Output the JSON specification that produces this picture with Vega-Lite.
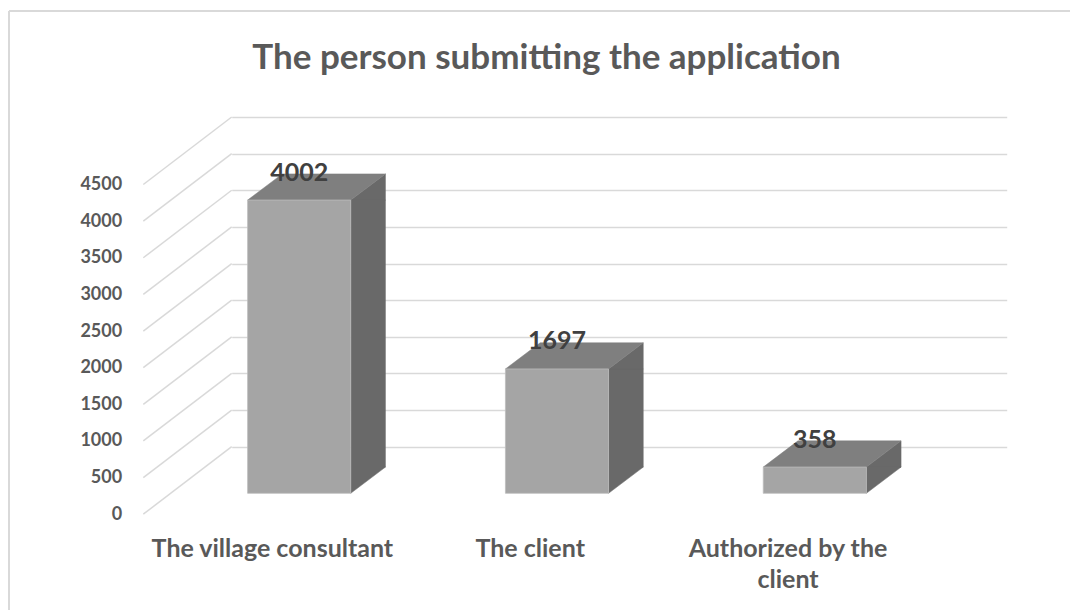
{
  "$schema": "https://vega.github.io/schema/vega-lite/v6.json",
  "autosize": {"type": "none"},
  "padding": {"left": 231.7, "top": 117, "right": 63.3, "bottom": 163.3},
  "width": 775,
  "height": 329.7,
  "background": "white",
  "config": {
    "view": {"stroke": null},
    "font": "Lato",
    "axisY": {
      "grid": true,
      "gridColor": "#d9d9d9",
      "gridWidth": 1.5,
      "domain": false,
      "ticks": false,
      "tickSize": 0,
      "labelPadding": 110,
      "labelOffset": 67.5,
      "labelFont": "Lato",
      "labelFontSize": 18,
      "labelFontWeight": "bold",
      "labelColor": "#595959",
      "labelBaseline": "middle",
      "format": "d"
    }
  },
  "title": {
    "text": "The person submitting the application",
    "font": "Lato",
    "fontSize": 35,
    "fontWeight": "bold",
    "color": "#595959",
    "anchor": "middle",
    "frame": "group",
    "dx": -72.7,
    "offset": -94,
    "baseline": "alphabetic"
  },
  "resolve": {"scale": {"x": "independent"}},
  "layer": [
    {
      "data": {"values": [{"edge": "top"}]},
      "mark": {"type": "rule", "stroke": "#d9d9d9", "strokeWidth": 2, "xOffset": -222.7, "x2Offset": 63.3, "yOffset": -106, "y2Offset": -106},
      "encoding": {
        "x": {"datum": 0, "type": "quantitative", "scale": {"domain": [0, 1]}, "axis": null},
        "x2": {"datum": 1},
        "y": {"datum": 4500, "type": "quantitative", "title": null, "axis": {"values": [0, 500, 1000, 1500, 2000, 2500, 3000, 3500, 4000, 4500], "format": "d"}},
        "y2": {"datum": 4500}
      }
    },
    {
      "data": {"values": [{"edge": "left"}]},
      "mark": {"type": "rule", "stroke": "#d9d9d9", "strokeWidth": 2, "xOffset": -222.7, "x2Offset": -222.7, "yOffset": -106, "y2Offset": 163.3},
      "encoding": {
        "x": {"datum": 0, "type": "quantitative", "scale": {"domain": [0, 1]}, "axis": null},
        "x2": {"datum": 0},
        "y": {"datum": 4500, "type": "quantitative", "title": null, "axis": {"values": [0, 500, 1000, 1500, 2000, 2500, 3000, 3500, 4000, 4500], "format": "d"}},
        "y2": {"datum": 0}
      }
    },
    {
      "data": {"values": [{"v": 0}, {"v": 500}, {"v": 1000}, {"v": 1500}, {"v": 2000}, {"v": 2500}, {"v": 3000}, {"v": 3500}, {"v": 4000}, {"v": 4500}]},
      "mark": {"type": "rule", "stroke": "#d9d9d9", "strokeWidth": 1.5, "xOffset": -88.4, "yOffset": 67.5, "x2Offset": 0, "y2Offset": 0},
      "encoding": {
        "x": {"datum": 0, "type": "quantitative", "scale": {"domain": [0, 1]}, "axis": null},
        "x2": {"datum": 0},
        "y": {
          "field": "v",
          "type": "quantitative",
          "title": null,
          "scale": {"domain": [0, 4500], "nice": false},
          "axis": {"values": [0, 500, 1000, 1500, 2000, 2500, 3000, 3500, 4000, 4500], "format": "d"}
        },
        "y2": {"field": "v"}
      }
    },
    {
      "data": {"values": [
        {"cat": "The village consultant", "value": 4002},
        {"cat": "The client", "value": 1697},
        {"cat": "Authorized by the client", "value": 358}
      ]},
      "layer": [
        {
          "mark": {"type": "bar", "width": 34.7, "xOffset": 6.7, "yOffset": 46.6, "y2Offset": 20.4, "fill": "#696969", "stroke": "#696969", "strokeWidth": 0.5},
          "encoding": {
            "x": {"field": "cat", "type": "nominal", "sort": null, "title": null},
            "y": {"field": "value", "type": "quantitative", "title": null, "axis": {"values": [0, 500, 1000, 1500, 2000, 2500, 3000, 3500, 4000, 4500], "format": "d"}},
            "y2": {"datum": 0}
          }
        },
        {
          "mark": {"type": "point", "shape": "M 51.55 0 L 86.25 -26.2 L 86.25 0 Z", "size": 4, "filled": true, "opacity": 1, "fill": "#696969", "stroke": "#696969", "strokeWidth": 0.5, "xOffset": -62.2, "yOffset": 46.6},
          "encoding": {
            "x": {"field": "cat", "type": "nominal", "sort": null, "title": null},
            "y": {"field": "value", "type": "quantitative", "title": null, "axis": {"values": [0, 500, 1000, 1500, 2000, 2500, 3000, 3500, 4000, 4500], "format": "d"}}
          }
        },
        {
          "mark": {"type": "point", "shape": "M 51.55 -26.2 L 51.55 0 L 86.25 -26.2 Z", "size": 4, "filled": true, "opacity": 1, "fill": "#696969", "stroke": "#696969", "strokeWidth": 0.5, "xOffset": -62.2, "yOffset": 46.6},
          "encoding": {
            "x": {"field": "cat", "type": "nominal", "sort": null, "title": null},
            "y": {"datum": 0, "type": "quantitative", "title": null, "axis": {"values": [0, 500, 1000, 1500, 2000, 2500, 3000, 3500, 4000, 4500], "format": "d"}}
          }
        },
        {
          "mark": {"type": "point", "shape": "M -51.55 0 L 51.55 0 L 86.25 -26.2 L -16.85 -26.2 Z", "size": 4, "filled": true, "opacity": 1, "fill": "#7f7f7f", "stroke": "#7f7f7f", "strokeWidth": 0.5, "xOffset": -62.2, "yOffset": 46.6},
          "encoding": {
            "x": {"field": "cat", "type": "nominal", "sort": null, "title": null},
            "y": {"field": "value", "type": "quantitative", "title": null, "axis": {"values": [0, 500, 1000, 1500, 2000, 2500, 3000, 3500, 4000, 4500], "format": "d"}}
          }
        },
        {
          "mark": {"type": "bar", "xOffset": -62.2, "yOffset": 46.6, "y2Offset": 46.6, "fill": "#a5a5a5", "stroke": "#bdbdbd", "strokeWidth": 0.8},
          "encoding": {
            "x": {
              "field": "cat",
              "type": "nominal",
              "sort": null,
              "title": null,
              "scale": {"paddingInner": 0.6, "paddingOuter": 0.303},
              "axis": {
                "labelAngle": 0,
                "labelAlign": "center",
                "domain": false,
                "ticks": false,
                "tickSize": 0,
                "grid": false,
                "labelOffset": -89,
                "labelPadding": 110,
                "labelBaseline": "alphabetic",
                "labelFont": "Lato",
                "labelFontSize": 25,
                "labelFontWeight": "bold",
                "labelColor": "#595959",
                "labelLimit": 0,
                "labelLineHeight": 31,
                "labelExpr": "datum.label == 'Authorized by the client' ? ['Authorized by the', 'client'] : datum.label"
              }
            },
            "y": {"field": "value", "type": "quantitative", "title": null, "axis": {"values": [0, 500, 1000, 1500, 2000, 2500, 3000, 3500, 4000, 4500], "format": "d"}},
            "y2": {"datum": 0}
          }
        },
        {
          "mark": {"type": "text", "font": "Lato", "fontSize": 25, "fontWeight": "bold", "color": "#404040", "align": "center", "baseline": "alphabetic", "xOffset": -62.2, "yOffset": 27.1},
          "encoding": {
            "x": {"field": "cat", "type": "nominal", "sort": null, "title": null},
            "y": {"field": "value", "type": "quantitative", "title": null, "axis": {"values": [0, 500, 1000, 1500, 2000, 2500, 3000, 3500, 4000, 4500], "format": "d"}},
            "text": {"field": "value", "type": "quantitative"}
          }
        }
      ]
    }
  ]
}
